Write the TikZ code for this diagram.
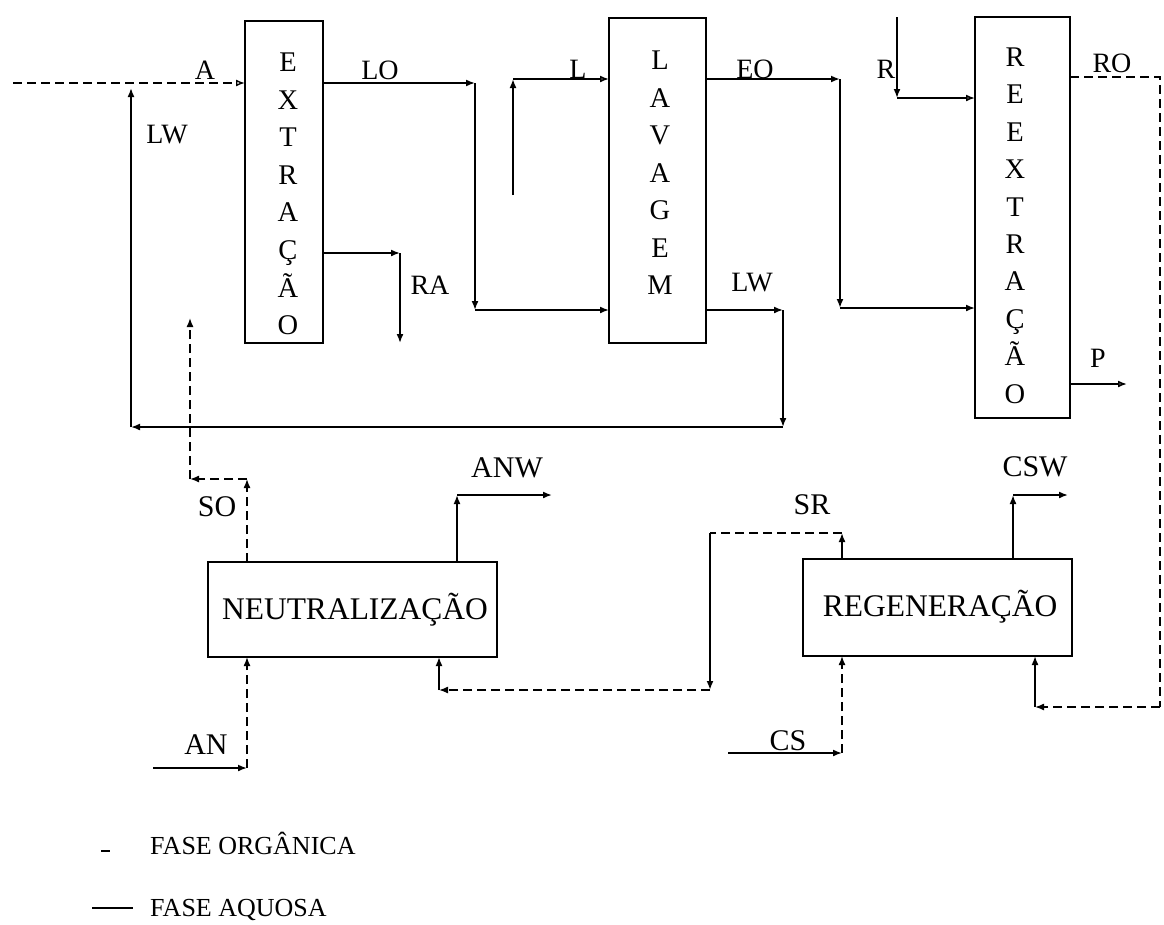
\documentclass[tikz,border=0pt]{standalone}
\usepackage{fontspec}
\setmainfont{Liberation Serif}
\usetikzlibrary{arrows.meta}
\begin{document}
\begin{tikzpicture}[x=1pt,y=-1pt,
  box/.style={draw, line width=2.1pt, inner sep=0pt},
  aq/.style={line width=1.7pt},
  org/.style={line width=1.4pt, dash pattern=on 9pt off 5pt},
  tip/.style={-{Latex[length=9pt,width=7pt]}},
  otip/.style={-{Latex[open,length=9pt,width=7pt]}},
  lab/.style={font=\fontsize{28}{30}\selectfont, inner sep=0pt},
  blab/.style={font=\fontsize{30}{32}\selectfont, inner sep=0pt},
  bigl/.style={font=\fontsize{31.5}{33}\selectfont, inner sep=0pt},
  vl/.style={font=\fontsize{28.5}{30}\selectfont, inner sep=0pt, anchor=base},
  leg/.style={font=\fontsize{26}{28}\selectfont, inner sep=0pt, anchor=west}]
\useasboundingbox (0,0) rectangle (1164,924);

% boxes
\node[box, minimum width=78pt, minimum height=322pt] (ext) at (284,182) {};
\node[box, minimum width=97pt, minimum height=325pt] (lav) at (657.5,180.5) {};
\node[box, minimum width=95pt, minimum height=401pt] (reex) at (1022.5,217.5) {};
\node[box, minimum width=289pt, minimum height=95pt] (neu) at (352.5,609.5) {};
\node[box, minimum width=269pt, minimum height=97pt] (reg) at (937.5,607.5) {};

\foreach \c [count=\i from 0] in {E,X,T,R,A,Ç,Ã,O}
  \node[vl] (ext\i) at (288,{71.5+37.6*\i}) {\c};
\foreach \c [count=\i from 0] in {L,A,V,A,G,E,M}
  \node[vl] (lav\i) at (660,{69.5+37.5*\i}) {\c};
\foreach \c [count=\i from 0] in {R,E,E,X,T,R,A,Ç,Ã,O}
  \node[vl] (reex\i) at (1015,{66.5+37.4*\i}) {\c};

\node[bigl] (neut) at (355,610) {NEUTRALIZAÇÃO};
\node[bigl] (regt) at (940,607) {REGENERAÇÃO};

% labels
\node[lab] (lA) at (205,70) {A};
\node[lab] (lLO) at (380,70) {LO};
\node[lab] (lL) at (578,69) {L};
\node[lab] (lEO) at (755,69) {EO};
\node[lab] (lR) at (886,69) {R};
\node[lab] (lRO) at (1112,63) {RO};
\node[lab] (lLW1) at (167,135) {LW};
\node[lab] (lRA) at (430,285) {RA};
\node[lab] (lLW2) at (752,283) {LW};
\node[lab] (lP) at (1098,358) {P};
\node[blab] (lSO) at (217,507) {SO};
\node[blab] (lANW) at (507,468) {ANW};
\node[blab] (lAN) at (206,745) {AN};
\node[blab] (lSR) at (812,505) {SR};
\node[blab] (lCSW) at (1035,467) {CSW};
\node[blab] (lCS) at (788,741) {CS};

% coordinates
\coordinate (f0) at (13,83); \coordinate (fA) at (245,83);
\coordinate (lw0) at (706,310); \coordinate (lw1) at (783,310);
\coordinate (lw2) at (783,427); \coordinate (lw3) at (131,427); \coordinate (lw4) at (131,88);
\coordinate (lo0) at (323,83); \coordinate (lo1) at (475,83); \coordinate (lo2) at (475,310); \coordinate (lo3) at (609,310);
\coordinate (ra0) at (323,253); \coordinate (ra1) at (400,253); \coordinate (ra2) at (400,343);
\coordinate (so0) at (247,562); \coordinate (so1) at (247,479); \coordinate (so2) at (190,479); \coordinate (so3) at (190,318);
\coordinate (l0) at (513,195); \coordinate (l1) at (513,79); \coordinate (l2) at (609,79);
\coordinate (eo0) at (706,79); \coordinate (eo1) at (840,79); \coordinate (eo2) at (840,308); \coordinate (eo3) at (975,308);
\coordinate (r0) at (897,17); \coordinate (r1) at (897,98); \coordinate (r2) at (975,98);
\coordinate (ro0) at (1070,77); \coordinate (ro1) at (1160,77); \coordinate (ro2) at (1160,707);
\coordinate (ro3) at (1035,707); \coordinate (ro4) at (1035,656);
\coordinate (p0) at (1070,384); \coordinate (p1) at (1127,384);
\coordinate (cw0) at (1013,559); \coordinate (cw1) at (1013,495); \coordinate (cw2) at (1068,495);
\coordinate (sr0) at (842,559); \coordinate (sr1) at (842,533); \coordinate (sr2) at (710,533);
\coordinate (sr3) at (710,690); \coordinate (sr4) at (439,690); \coordinate (sr5) at (439,657);
\coordinate (aw0) at (457,562); \coordinate (aw1) at (457,495); \coordinate (aw2) at (552,495);
\coordinate (an0) at (153,768); \coordinate (an1) at (247,768); \coordinate (an2) at (247,657);
\coordinate (cs0) at (728,753); \coordinate (cs1) at (842,753); \coordinate (cs2) at (842,656);
\coordinate (lg0) at (101,851); \coordinate (lg1) at (110,851);
\coordinate (lg2) at (92,908); \coordinate (lg3) at (133,908);

% connectors
\draw[org,otip] (f0) -- (fA);
\draw[aq,tip] (lw0) -- (lw1); \draw[aq,tip] (lw1) -- (lw2);
\draw[aq,tip] (lw2) -- (lw3); \draw[aq,tip] (lw3) -- (lw4);
\draw[aq,tip] (lo0) -- (lo1); \draw[aq,tip] (lo1) -- (lo2); \draw[aq,tip] (lo2) -- (lo3);
\draw[aq,tip] (ra0) -- (ra1); \draw[aq,tip] (ra1) -- (ra2);
\draw[org,tip] (so0) -- (so1); \draw[org,tip] (so1) -- (so2); \draw[org,tip] (so2) -- (so3);
\draw[aq,line width=2.2pt,tip] (l0) -- (l1); \draw[aq,otip] (l1) -- (l2);
\draw[aq,line width=2.3pt,tip] (eo0) -- (eo1); \draw[aq,line width=2.3pt,tip] (eo1) -- (eo2); \draw[aq,tip] (eo2) -- (eo3);
\draw[aq,tip] (r0) -- (r1); \draw[aq,otip] (r1) -- (r2);
\draw[org] (ro0) -- (ro1) -- (ro2);
\draw[org,tip] (ro2) -- (ro3); \draw[aq,tip] (ro3) -- (ro4);
\draw[aq,otip] (p0) -- (p1);
\draw[aq,tip] (cw0) -- (cw1); \draw[aq,tip] (cw1) -- (cw2);
\draw[aq,tip] (sr0) -- (sr1); \draw[org] (sr1) -- (sr2);
\draw[aq,line width=2.2pt,tip] (sr2) -- (sr3); \draw[org,tip] (sr3) -- (sr4); \draw[aq,tip] (sr4) -- (sr5);
\draw[aq,tip] (aw0) -- (aw1); \draw[aq,tip] (aw1) -- (aw2);
\draw[aq,tip] (an0) -- (an1); \draw[org,tip] (an1) -- (an2);
\draw[aq,tip] (cs0) -- (cs1); \draw[org,tip] (cs1) -- (cs2);

% legend
\draw[line width=2pt] (lg0) -- (lg1);
\draw[aq] (lg2) -- (lg3);
\node[leg] (lorg) at (150,843) {FASE ORGÂNICA};
\node[leg] (laq) at (150,910) {FASE AQUOSA};
\end{tikzpicture}
\end{document}
